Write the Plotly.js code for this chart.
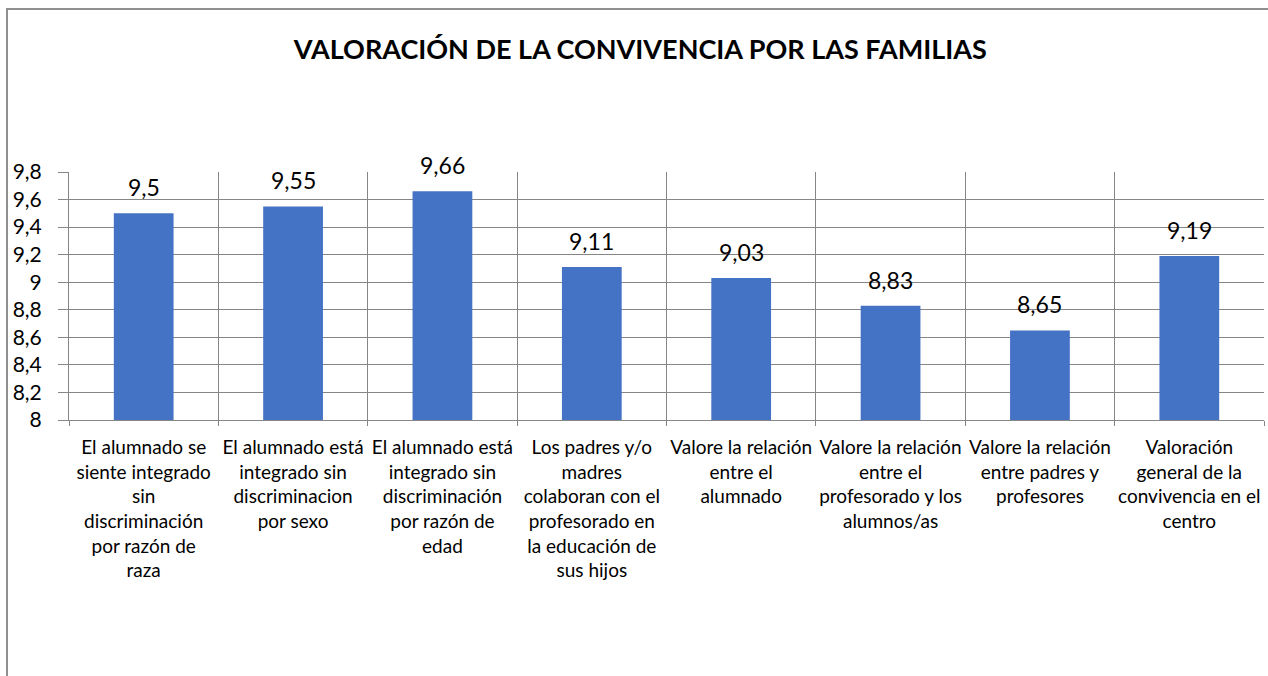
<!DOCTYPE html>
<html><head><meta charset="utf-8">
<script src="https://cdn.plot.ly/plotly-3.0.1.min.js"></script>
<style>html,body{margin:0;padding:0;background:#fff}#c{width:1268px;height:676px}</style>
</head><body><div id="c"></div>
<script>
const categories = [
  "El alumnado se<br>siente integrado<br>sin<br>discriminación<br>por razón de<br>raza",
  "El alumnado está<br>integrado sin<br>discriminacion<br>por sexo",
  "El alumnado está<br>integrado sin<br>discriminación<br>por razón de<br>edad",
  "Los padres y/o<br>madres<br>colaboran con el<br>profesorado en<br>la educación de<br>sus hijos",
  "Valore la relación<br>entre el<br>alumnado",
  "Valore la relación<br>entre el<br>profesorado y los<br>alumnos/as",
  "Valore la relación<br>entre padres y<br>profesores",
  "Valoración<br>general de la<br>convivencia en el<br>centro"
];
const values = [9.5, 9.55, 9.66, 9.11, 9.03, 8.83, 8.65, 9.19];
const yTicks = [8, 8.2, 8.4, 8.6, 8.8, 9, 9.2, 9.4, 9.6, 9.8];
const titleText = "VALORACIÓN DE LA CONVIVENCIA POR LAS FAMILIAS";

const fontFam = "Lato, 'Open Sans', sans-serif";
const fmt = v => String(v).replace('.', ',');
const trace = {
  type: 'bar',
  x: categories,
  y: values,
  marker: {color: '#4472C4'},
  hoverinfo: 'none'
};
const labels = categories.map((c, i) => ({
  x: c, y: values[i], xref: 'x', yref: 'y',
  text: fmt(values[i]), showarrow: false,
  xanchor: 'center', yanchor: 'bottom', yshift: 10,
  font: {family: fontFam, size: 23, color: '#000'}
}));
const layout = {
  width: 1268, height: 676,
  margin: {l: 69, r: 4, t: 172, b: 256},
  paper_bgcolor: '#fff', plot_bgcolor: '#fff',
  separators: ',.',
  bargap: 0.6,
  showlegend: false,
  font: {family: fontFam, color: '#000'},
  title: {text: '<b>' + titleText + '</b>', font: {family: fontFam, size: 27, color: '#000'},
          x: 0.505, xanchor: 'center', y: 1 - 50/676, yanchor: 'middle', yref: 'container'},
  xaxis: {
    type: 'category',
    showgrid: true, gridcolor: '#868686', gridwidth: 1,
    tickson: 'boundaries', ticks: 'outside', ticklen: 5, tickcolor: '#868686',
    showline: true, linecolor: '#868686', linewidth: 1,
    tickfont: {family: fontFam, size: 19, color: '#000'},
    ticklabelstandoff: 10,
    tickangle: 0, automargin: false
  },
  yaxis: {
    range: [8, 9.8],
    tickvals: yTicks,
    ticktext: yTicks.map(fmt),
    showgrid: true, gridcolor: '#868686', gridwidth: 1,
    ticks: 'outside', ticklen: 10, tickcolor: '#868686',
    showline: true, linecolor: '#868686', linewidth: 1,
    zeroline: false,
    tickfont: {family: fontFam, size: 21, color: '#000'},
    ticklabelstandoff: 12,
    automargin: false
  },
  annotations: labels,
  shapes: [{
    type: 'rect', xref: 'paper', yref: 'paper',
    x0: (7 - 69) / 1195, x1: 1.01, y0: -1.1, y1: (420 - 9) / 248,
    line: {color: '#8f8f8f', width: 2}, fillcolor: 'rgba(0,0,0,0)', layer: 'below'
  }]
};
Plotly.newPlot('c', [trace], layout, {staticPlot: true});
</script></body></html>
